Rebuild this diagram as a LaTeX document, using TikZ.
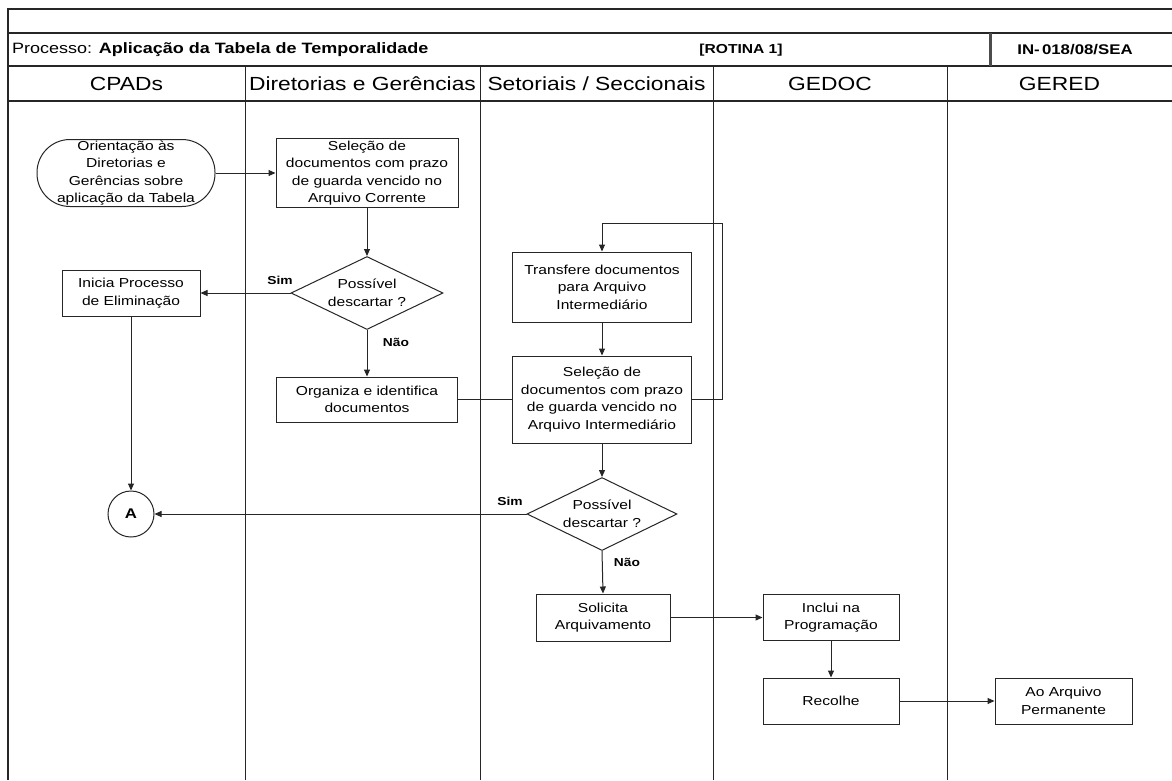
\documentclass[tikz,border=0pt]{standalone}
\usepackage{fontspec}
\setmainfont{Liberation Sans}[FakeStretch=1.2]
\usetikzlibrary{arrows.meta,shapes.geometric}
\begin{document}
\begin{tikzpicture}[x=1pt,y=-1pt,
  frame/.style={line width=1.2pt,draw=black!85},
  lane/.style={line width=1pt,draw=black!85},
  box/.style={draw=black!85,line width=1pt,inner sep=0pt,align=center,
    font=\fontsize{13}{17.5}\selectfont},
  dia/.style={diamond,draw=black!85,line width=1pt,inner sep=0pt,align=center,
    font=\fontsize{13}{17.5}\selectfont},
  lbl/.style={font=\bfseries\fontsize{11.5}{14}\selectfont,inner sep=0pt},
  hdr/.style={font=\fontsize{19}{21}\selectfont,inner sep=0pt},
  ttl/.style={font=\fontsize{15}{17}\selectfont,inner sep=0pt},
  arr/.style={line width=1pt,draw=black!85,-{Triangle[length=7pt,width=6pt]}},
  ln/.style={line width=1pt,draw=black!85}]
\useasboundingbox (0,0) rectangle (1172,780);
\fill[white] (0,0) rectangle (1172,780);
% frame and header rows
\draw[frame] (8,780) -- (8,9) -- (1172,9);
\draw[frame] (8,33) -- (1172,33);
\draw[frame] (8,66) -- (1172,66);
\draw[frame] (8,101) -- (1172,101);
\draw[line width=3pt,draw=black!70] (990,33) -- (990,66);
\foreach \x in {245,480,713,947} \draw[lane] (\x,66) -- (\x,780);
% header texts
\node[ttl,anchor=west] (title) at (12,50) {Processo: \textbf{Aplicação da Tabela de Temporalidade}};
\node[ttl,font=\bfseries\fontsize{13}{15}\selectfont] (rotina) at (741,50) {[ROTINA 1]};
\node[ttl,font=\bfseries\fontsize{14}{16}\selectfont] (code) at (1075,50) {IN-\,018/08/SEA};
\node[hdr] (h1) at (126.5,84) {CPADs};
\node[hdr] (h2) at (362.5,84) {Diretorias e Gerências};
\node[hdr] (h3) at (596.5,84) {Setoriais / Seccionais};
\node[hdr] (h4) at (830,84) {GEDOC};
\node[hdr] (h5) at (1059.5,84) {GERED};
% nodes
\node[box,rounded corners=33pt,minimum width=178pt,minimum height=67pt] (term) at (126,173)
  {Orientação às\\Diretorias e\\Gerências sobre\\aplicação da Tabela};
\node[box,minimum width=182pt,minimum height=69pt] (sel1) at (367,173)
  {Seleção de\\documentos com prazo\\de guarda vencido no\\Arquivo Corrente};
\node[dia,minimum width=152pt,minimum height=73pt,aspect=2.08] (dia1) at (367,293)
  {Possível\\descartar ?};
\node[box,minimum width=138pt,minimum height=46pt] (ini) at (131,293)
  {Inicia Processo\\de Eliminação};
\node[box,minimum width=181pt,minimum height=45pt] (org) at (367,399.5)
  {Organiza e identifica\\documentos};
\node[box,minimum width=179pt,minimum height=70pt] (trf) at (602,287)
  {Transfere documentos\\para Arquivo\\Intermediário};
\node[box,minimum width=179pt,minimum height=87pt] (sel2) at (602,399.5)
  {Seleção de\\documentos com prazo\\de guarda vencido no\\Arquivo Intermediário};
\node[dia,minimum width=150pt,minimum height=73pt,aspect=2.05] (dia2) at (602,514)
  {Possível\\descartar ?};
\node[circle,draw=black!85,line width=1pt,minimum size=46pt,inner sep=0pt,
  font=\bfseries\fontsize{14}{16}\selectfont] (ca) at (131,514) {A};
\node[box,minimum width=134pt,minimum height=47pt] (sol) at (603,617.5)
  {Solicita\\Arquivamento};
\node[box,minimum width=136pt,minimum height=46pt] (inc) at (831,617.5)
  {Inclui na\\Programação};
\node[box,minimum width=136pt,minimum height=46pt] (rec) at (831,701)
  {Recolhe};
\node[box,minimum width=137pt,minimum height=46pt] (perm) at (1063.5,701)
  {Ao Arquivo\\Permanente};
% labels
\node[lbl] (sim1) at (280,280) {Sim};
\node[lbl] (nao1) at (396,342) {Não};
\node[lbl] (sim2) at (510,501) {Sim};
\node[lbl] (nao2) at (627,562) {Não};
% connectors
\coordinate (loop) at (722,223);
\draw[arr] (term.east) -- (sel1.west);
\draw[arr] (sel1.south) -- (dia1.north);
\draw[arr] (dia1.west) -- (ini.east);
\draw[arr] (dia1.south) -- (org.north);
\draw[ln] (org.east) -- (sel2.west);
\draw[arr] (trf.south) -- (sel2.north);
\draw[arr] (sel2.east) -| (loop) -| (trf.north);
\draw[arr] (sel2.south) -- (dia2.north);
\draw[arr] (dia2.west) -- (ca.east);
\draw[arr] (ini.south) -- (ca.north);
\draw[arr] (dia2.south) -- (sol.north);
\draw[arr] (sol.east) -- (inc.west);
\draw[arr] (inc.south) -- (rec.north);
\draw[arr] (rec.east) -- (perm.west);
\end{tikzpicture}
\end{document}
